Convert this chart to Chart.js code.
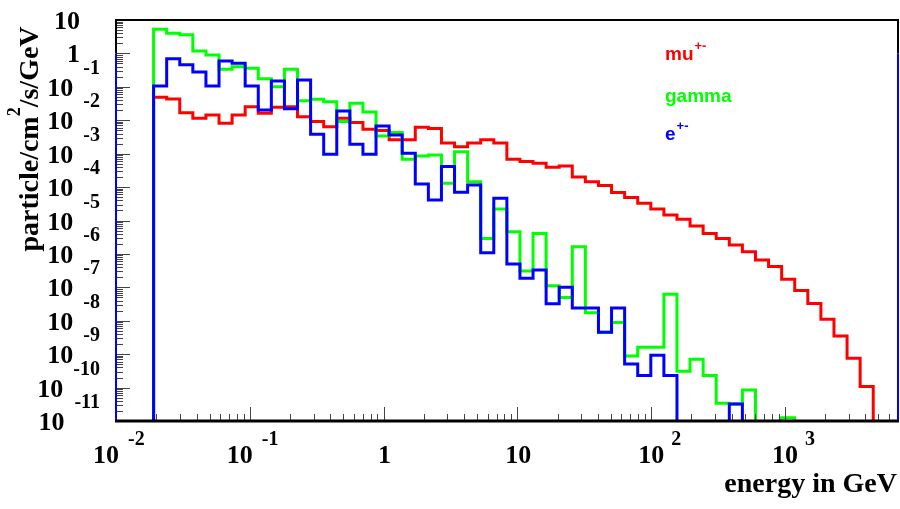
<!DOCTYPE html>
<html lang="en">
<head>
<meta charset="UTF-8" />
<title>Particle flux vs energy</title>
<script src="https://cdn.jsdelivr.net/npm/chart.js@4.4.0/dist/chart.umd.min.js"></script>
<style>
  html, body { margin: 0; padding: 0; background: #fff; }
</style>
</head>
<body>
<canvas id="fluxChart" width="900" height="509"></canvas>
<script>
// log-spaced histogram bins (edges in log10 GeV)
const binLogStart = -1.719;
const binLogWidth = 0.0978;
const nBins = 55;

// bin contents, particle/cm2/s/GeV (0 = empty bin)
const muFlux = [
  0.049, 0.043, 0.0168, 0.0115, 0.0144, 0.0081, 0.0144, 0.0255, 0.0161, 0.0244,
  0.0255, 0.0128, 0.0091, 0.0064, 0.0115, 0.0085, 0.0054, 0.0049, 0.0026, 0.0026,
  0.0062, 0.0057, 0.0021, 0.0016, 0.0021, 0.0026, 0.0021, 6.8e-4, 5.8e-4, 5.2e-4,
  3.9e-4, 4.3e-4, 2.0e-4, 1.45e-4, 1.12e-4, 6.9e-5, 4.9e-5, 3.3e-5, 2.2e-5, 1.46e-5,
  1.09e-5, 6.9e-6, 4.1e-6, 2.9e-6, 1.85e-6, 1.17e-6, 6.6e-7, 4.2e-7, 1.74e-7, 8.1e-8,
  3.3e-8, 1.1e-8, 3.5e-9, 7.5e-10, 1.07e-10
];
const gammaFlux = [
  5.3, 4.0, 3.6, 1.18, 0.90, 0.335, 0.40, 0.36, 0.175, 0.101,
  0.335, 0.0385, 0.0424, 0.0359, 0.0091, 0.0321, 0.0177, 0.0034, 0.0043, 6.8e-4,
  8.5e-4, 9.1e-4, 1.3e-4, 1.15e-3, 1.45e-4, 2.9e-6, 2.2e-5, 4.6e-6, 3.1e-7, 4.1e-6,
  1.12e-7, 5.0e-8, 1.65e-6, 1.75e-8, 4.5e-9, 8.8e-9, 8.8e-10, 1.6e-9, 1.6e-9, 6.2e-8,
  3.1e-10, 7.0e-10, 2.3e-10, 3.4e-11, 3.2e-11, 8.5e-11, 0, 0, 1.26e-11, 0,
  0, 0, 0, 0, 0
];
const eFlux = [
  0.106, 0.695, 0.46, 0.278, 0.106, 0.593, 0.506, 0.106, 0.0203, 0.15,
  0.0222, 0.16, 0.0038, 9.6e-4, 0.0189, 0.0019, 9.6e-4, 0.0067, 0.0036, 0.00103,
  1.24e-4, 4.1e-5, 4.1e-4, 7.0e-5, 1.16e-4, 1.09e-6, 4.6e-5, 5.0e-7, 1.87e-7, 3.3e-7,
  3.2e-8, 1.0e-7, 2.4e-8, 2.4e-8, 4.5e-9, 2.4e-8, 5.1e-10, 2.3e-10, 9.3e-10, 2.3e-10,
  0, 0, 0, 0, 3.2e-11, 0, 0, 0, 0, 0,
  0, 0, 0, 0, 0
];

const xDecades = [-2, -1, 0, 1, 2, 3];
const yDecades = [1, 0, -1, -2, -3, -4, -5, -6, -7, -8, -9, -10, -11];

const EMPTY = 1e-13; // below the axis, gets clipped like ROOT's empty bins

const binEdges = [];
for (let i = 0; i <= nBins; i++) binEdges.push(Math.pow(10, binLogStart + i * binLogWidth));

function histPoints(values) {
  const pts = [{x: binEdges[0], y: EMPTY}];
  values.forEach((v, i) => pts.push({x: binEdges[i], y: v > 0 ? v : EMPTY}));
  pts.push({x: binEdges[nBins], y: EMPTY});
  return pts;
}

function histSet(label, values, color) {
  return {
    label: label,
    data: histPoints(values),
    showLine: true,
    stepped: 'before',
    borderColor: color,
    borderWidth: 3,
    borderJoinStyle: 'miter',
    borderCapStyle: 'butt',
    pointRadius: 0,
    fill: false,
  };
}

const SERIF = '"Liberation Serif", "Times New Roman", serif';
const SANS = '"Liberation Sans", Arial, sans-serif';

// ROOT-like frame, ticks, labels and titles
const rootAxes = {
  id: 'rootAxes',
  afterDraw(chart) {
    const {ctx, chartArea: a, scales: {x, y}} = chart;
    ctx.save();

    // ticks
    ctx.strokeStyle = '#444';
    ctx.lineWidth = 1;
    ctx.beginPath();
    for (let d = -2; d <= 3; d++) {
      for (let m = 1; m <= 9; m++) {
        const v = m * Math.pow(10, d);
        if (v < x.min || v > x.max) continue;
        const px = Math.round(x.getPixelForValue(v)) + 0.5;
        ctx.moveTo(px, a.bottom);
        ctx.lineTo(px, a.bottom - (m === 1 ? 14 : 7));
      }
    }
    for (let d = -11; d <= 1; d++) {
      for (let m = 1; m <= 9; m++) {
        const v = m * Math.pow(10, d);
        if (v < y.min || v > y.max) continue;
        const py = Math.round(y.getPixelForValue(v)) + 0.5;
        ctx.moveTo(a.left, py);
        ctx.lineTo(a.left + (m === 1 ? 14 : 7), py);
      }
    }
    ctx.stroke();

    // frame
    const yOne = y.getPixelForValue(1);
    ctx.lineWidth = 2;
    ctx.strokeStyle = '#000';
    ctx.beginPath();
    ctx.moveTo(a.left, yOne); ctx.lineTo(a.left, a.top); ctx.lineTo(a.right, a.top); ctx.lineTo(a.right, yOne);
    ctx.stroke();
    ctx.strokeStyle = '#0000ff';
    ctx.beginPath();
    ctx.moveTo(a.left, yOne); ctx.lineTo(a.left, a.bottom);
    ctx.moveTo(a.right, yOne); ctx.lineTo(a.right, a.bottom);
    ctx.stroke();
    ctx.strokeStyle = '#000';
    ctx.lineWidth = 3;
    ctx.beginPath();
    ctx.moveTo(a.left - 1, a.bottom); ctx.lineTo(a.right + 1, a.bottom);
    ctx.stroke();

    ctx.fillStyle = '#000';
    const big = 'bold 26px ' + SERIF;
    const small = 'bold 20px ' + SERIF;

    // y labels
    yDecades.forEach(e => {
      const py = y.getPixelForValue(Math.pow(10, e));
      ctx.textAlign = 'right';
      ctx.textBaseline = 'alphabetic';
      if (e === 1 || e === 0) {
        ctx.font = big;
        ctx.fillText(e === 1 ? '10' : '1', a.left - 36, py + 9);
      } else {
        ctx.font = small;
        const ex = String(e);
        ctx.fillText(ex, a.left - 16, py - 13);
        const exLeft = a.left - 16 - ctx.measureText(ex).width;
        ctx.font = big;
        ctx.fillText('10', exLeft - 10, py + 9);
      }
    });

    // x labels
    xDecades.forEach(e => {
      const px = x.getPixelForValue(Math.pow(10, e));
      const base = a.bottom + 42;
      const sup = a.bottom + 24;
      ctx.font = big;
      if (e === 0 || e === 1) {
        ctx.textAlign = 'center';
        ctx.fillText(e === 0 ? '1' : '10', px + 1, base);
      } else {
        ctx.textAlign = 'right';
        ctx.fillText('10', px + (e < 0 ? 3 : 13), base);
        ctx.font = small;
        ctx.textAlign = 'left';
        ctx.fillText(String(e), px + (e < 0 ? 12 : 20), sup);
      }
    });

    // x title
    ctx.font = 'bold 28px ' + SERIF;
    ctx.textAlign = 'right';
    ctx.fillText('energy in GeV', a.right - 1, 492);

    // y title (rotated, with superscript 2)
    const parts = [['particle/cm', 28, 0], ['2', 18, -18], ['/s/GeV', 28, 0]];
    let total = 0;
    parts.forEach(p => { ctx.font = 'bold ' + p[1] + 'px ' + SERIF; total += ctx.measureText(p[0]).width; });
    ctx.translate(38, 139 + total / 2);
    ctx.rotate(-Math.PI / 2);
    ctx.textAlign = 'left';
    let off = 0;
    parts.forEach(p => {
      ctx.font = 'bold ' + p[1] + 'px ' + SERIF;
      ctx.fillText(p[0], off, p[2]);
      off += ctx.measureText(p[0]).width;
    });
    ctx.setTransform(1, 0, 0, 1, 0, 0);

    // legend texts
    const legend = [['mu', '+-', '#ff0000', 60], ['gamma', '', '#00ff00', 102], ['e', '+-', '#0000ff', 140]];
    ctx.textAlign = 'left';
    legend.forEach(([txt, sup, col, base]) => {
      ctx.fillStyle = col;
      ctx.font = 'bold 19px ' + SANS;
      ctx.fillText(txt, 665, base);
      const w = ctx.measureText(txt).width;
      if (sup) {
        ctx.font = 'bold 13px ' + SANS;
        ctx.fillText(sup, 665 + w + 1, base - 10.5);
      }
    });

    ctx.restore();
  }
};

const fluxChart = new Chart(document.getElementById('fluxChart').getContext('2d'), {
  type: 'scatter',
  data: {
    datasets: [
      histSet('e+-', eFlux, '#0000ff'),
      histSet('gamma', gammaFlux, '#00ff00'),
      histSet('mu+-', muFlux, '#ff0000'),
    ],
  },
  options: {
    responsive: false,
    animation: false,
    devicePixelRatio: 1,
    layout: {padding: {left: 116, right: 2, top: 20, bottom: 88}},
    plugins: {legend: {display: false}, tooltip: {enabled: false}},
    scales: {
      x: {type: 'logarithmic', min: 0.01, max: 7000, display: false},
      y: {type: 'logarithmic', min: 1e-11, max: 10, display: false},
    },
  },
  plugins: [rootAxes],
});
</script>
</body>
</html>
